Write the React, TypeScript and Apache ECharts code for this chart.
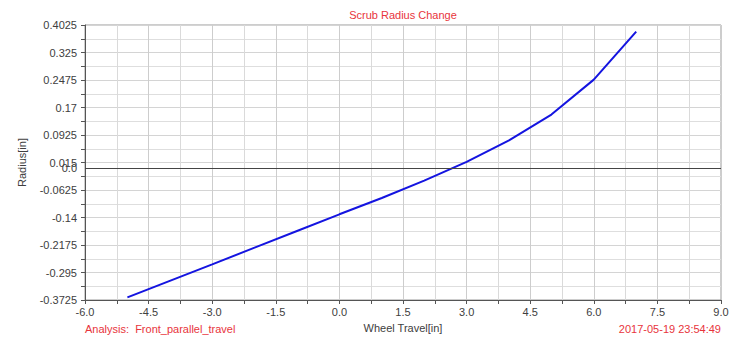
import { useEffect, useRef } from 'react';
import * as echarts from 'echarts';

// Wheel travel [in] at which the scrub radius was sampled
const wheelTravel = [-5, -4, -3, -2, -1, 0, 1, 2, 3, 4, 5, 6, 7];
// Scrub radius [in] at each wheel travel position
const scrubRadius = [-0.365, -0.3185, -0.272, -0.225, -0.178, -0.131, -0.085, -0.036, 0.017, 0.0775, 0.15, 0.2485, 0.384];

// Axis ranges and tick steps
const xRange = [-6, 9];
const xStep = 1.5;
const yRange = [-0.3725, 0.4025];
const yStep = 0.0775;
const zeroLevel = 0;
const zeroLabel = '0.0';

const chartTitle = 'Scrub Radius Change';
const xName = 'Wheel Travel[in]';
const yName = 'Radius[in]';
const analysisText = 'Analysis:  Front_parallel_travel';
const timestampText = '2017-05-19 23:54:49';

const FONT = '"Liberation Sans", Arial, sans-serif';
const RED = '#e8343c';
const LABEL = '#404040';

export default function App() {
  const ref = useRef<HTMLDivElement>(null);

  useEffect(() => {
    document.body.style.margin = '0';
    const chart = echarts.init(ref.current!, null, { renderer: 'svg' });
    const gridLeft = 85;
    const gridRight = 21;
    const gridTop = 25;
    const gridBottom = 36;
    const plotCenterX = gridLeft + (742 - gridLeft - gridRight) / 2;

    chart.setOption({
      animation: false,
      textStyle: { fontFamily: FONT },
      grid: {
        left: gridLeft,
        right: gridRight,
        top: gridTop,
        bottom: gridBottom,
        show: true,
        borderColor: '#9a9a9a',
        borderWidth: 1,
        backgroundColor: '#ffffff',
      },
      xAxis: {
        type: 'value',
        min: xRange[0],
        max: xRange[1],
        interval: xStep,
        name: xName,
        nameLocation: 'middle',
        nameGap: 22,
        nameTextStyle: { color: LABEL, fontSize: 11, fontFamily: FONT },
        axisLine: { show: true, onZero: false, lineStyle: { color: '#555', width: 1 } },
        axisTick: { show: true, length: 4, lineStyle: { color: '#555' } },
        minorTick: { show: true, splitNumber: 2, length: 4, lineStyle: { color: '#555' } },
        axisLabel: {
          color: LABEL,
          fontSize: 11,
          fontFamily: FONT,
          margin: 6,
          formatter: (v: number) => v.toFixed(1),
        },
        splitLine: { show: true, lineStyle: { color: '#cdcdcd', width: 1 } },
        minorSplitLine: { show: true, lineStyle: { color: '#dadada', width: 1 } },
      },
      yAxis: {
        type: 'value',
        min: yRange[0],
        max: yRange[1],
        interval: yStep,
        name: yName,
        nameLocation: 'middle',
        nameGap: 58,
        nameTextStyle: { color: LABEL, fontSize: 11, fontFamily: FONT },
        axisLine: { show: true, onZero: false, lineStyle: { color: '#555', width: 1 } },
        axisTick: { show: true, length: 4, lineStyle: { color: '#555' } },
        minorTick: { show: true, splitNumber: 2, length: 4, lineStyle: { color: '#555' } },
        axisLabel: {
          color: LABEL,
          fontSize: 11,
          fontFamily: FONT,
          margin: 8,
          formatter: (v: number) => String(Number(v.toFixed(4))),
        },
        splitLine: { show: true, lineStyle: { color: '#d4d4d4', width: 1 } },
        minorSplitLine: { show: true, lineStyle: { color: '#dedede', width: 1 } },
      },
      series: [
        {
          type: 'line',
          data: wheelTravel.map((x, i) => [x, scrubRadius[i]]),
          showSymbol: false,
          symbol: 'none',
          lineStyle: { color: '#1414e0', width: 2 },
          markLine: {
            silent: true,
            symbol: 'none',
            lineStyle: { color: '#444', width: 1, type: 'solid' },
            label: {
              show: true,
              position: 'start',
              formatter: zeroLabel,
              color: LABEL,
              fontSize: 11,
              fontFamily: FONT,
              distance: 8,
            },
            data: [{ yAxis: zeroLevel }],
          },
        },
      ],
      graphic: [
        {
          type: 'text',
          x: plotCenterX,
          y: 15,
          style: {
            text: chartTitle,
            fill: RED,
            font: `11px ${FONT}`,
            textAlign: 'center',
            textVerticalAlign: 'middle',
          },
        },
        {
          type: 'text',
          x: gridLeft,
          y: 329,
          style: {
            text: analysisText,
            fill: RED,
            font: `11px ${FONT}`,
            textAlign: 'left',
            textVerticalAlign: 'middle',
          },
        },
        {
          type: 'text',
          x: 742 - gridRight,
          y: 329,
          style: {
            text: timestampText,
            fill: RED,
            font: `11px ${FONT}`,
            textAlign: 'right',
            textVerticalAlign: 'middle',
          },
        },
      ],
    });

    return () => chart.dispose();
  }, []);

  return <div ref={ref} style={{ width: 742, height: 338 }} />;
}
